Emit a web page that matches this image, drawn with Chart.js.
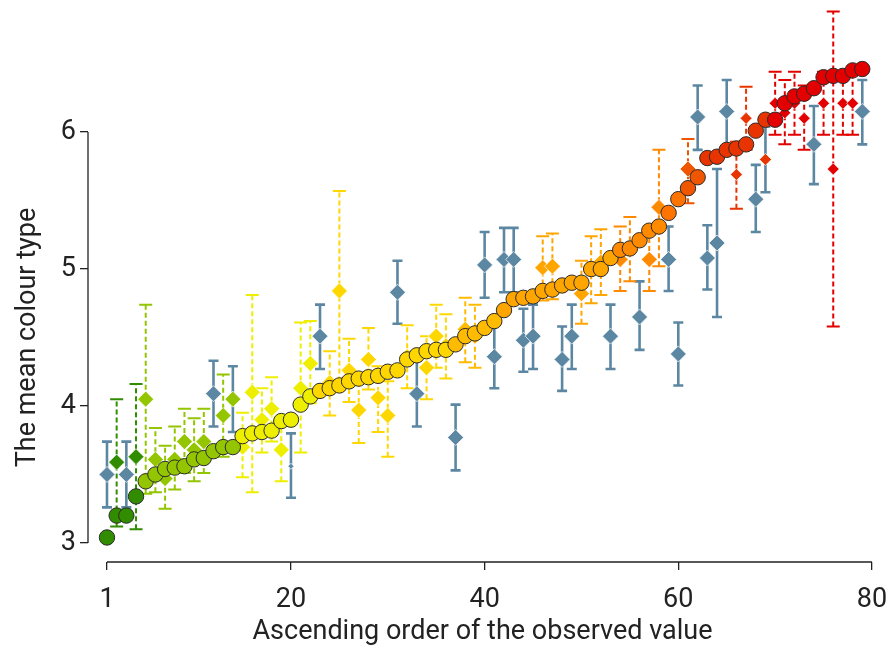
<!DOCTYPE html>
<html>
<head>
<meta charset="utf-8">
<script src="https://cdn.jsdelivr.net/npm/chart.js@4.4.1/dist/chart.umd.min.js"></script>
<style>
  html, body { margin: 0; padding: 0; background: #fff; }
  #wrap { width: 891px; height: 652px; position: relative; }
</style>
</head>
<body>
<div id="wrap"><canvas id="chart"></canvas></div>
<script>
// observed colour type, one value per rank (ascending)
const observed = [
  3.04, 3.20, 3.20, 3.34, 3.45, 3.50, 3.54, 3.55, 3.56, 3.61,
  3.62, 3.67, 3.70, 3.70, 3.78, 3.80, 3.81, 3.82, 3.89, 3.90,
  4.01, 4.07, 4.11, 4.13, 4.15, 4.18, 4.20, 4.21, 4.22, 4.25,
  4.26, 4.34, 4.37, 4.40, 4.41, 4.41, 4.45, 4.51, 4.53, 4.57,
  4.62, 4.70, 4.78, 4.79, 4.80, 4.84, 4.85, 4.88, 4.90, 4.90,
  5.00, 5.00, 5.08, 5.14, 5.15, 5.21, 5.28, 5.31, 5.41, 5.51,
  5.59, 5.67, 5.81, 5.82, 5.87, 5.88, 5.91, 6.01, 6.09, 6.09,
  6.21, 6.26, 6.28, 6.32, 6.40, 6.41, 6.41, 6.45, 6.46
];

// predicted mean colour type at each rank, with its interval
const predicted = [
  3.50, 3.59, 3.50, 3.63, 4.05, 3.61, 3.47, 3.61, 3.74, 3.68,
  3.74, 4.09, 3.93, 4.05, 3.70, 4.10, 3.90, 3.98, 3.68, 3.56,
  4.13, 4.31, 4.51, 4.17, 4.84, 4.26, 3.97, 4.34, 4.06, 3.93,
  4.83, 4.36, 4.09, 4.28, 4.51, 4.44, 3.77, 4.56, 4.51, 5.03,
  4.36, 5.07, 5.07, 4.48, 4.51, 5.01, 5.02, 4.34, 4.51, 4.82,
  5.00, 5.05, 4.51, 5.07, 5.15, 4.65, 5.07, 5.45, 5.07, 4.38,
  5.73, 6.11, 5.08, 5.19, 6.15, 5.69, 6.10, 5.51, 5.80, 6.21,
  6.14, 6.21, 6.10, 5.91, 6.21, 5.73, 6.21, 6.21, 6.15
];
const predLow = [
  3.26, 3.12, 3.26, 3.10, 3.36, 3.37, 3.25, 3.39, 3.51, 3.45,
  3.51, 3.85, 3.63, 3.81, 3.48, 3.37, 3.66, 3.74, 3.45, 3.33,
  3.66, 4.02, 4.27, 3.93, 4.12, 4.03, 3.73, 4.12, 3.81, 3.63,
  4.60, 4.13, 3.85, 4.05, 4.28, 4.20, 3.53, 4.32, 4.28, 4.79,
  4.13, 4.83, 4.83, 4.25, 4.27, 4.77, 4.78, 4.11, 4.27, 4.60,
  4.75, 4.81, 4.27, 4.84, 4.91, 4.41, 4.84, 5.02, 4.84, 4.15,
  5.48, 5.87, 4.85, 4.65, 5.90, 5.44, 5.87, 5.27, 5.56, 5.98,
  5.91, 5.98, 5.87, 5.62, 5.98, 4.58, 5.98, 5.98, 5.91
];
const predHigh = [
  3.74, 4.05, 3.74, 4.16, 4.74, 3.84, 3.71, 3.85, 3.98, 3.91,
  3.98, 4.33, 4.23, 4.29, 3.95, 4.81, 4.13, 4.21, 3.92, 3.80,
  4.61, 4.62, 4.74, 4.40, 5.57, 4.49, 4.22, 4.57, 4.29, 4.18,
  5.06, 4.59, 4.33, 4.51, 4.74, 4.67, 4.01, 4.79, 4.74, 5.27,
  4.59, 5.30, 5.30, 4.71, 4.74, 5.24, 5.26, 4.58, 4.74, 5.06,
  5.24, 5.29, 4.74, 5.31, 5.38, 4.91, 5.31, 5.87, 5.31, 4.61,
  5.95, 6.34, 5.32, 5.73, 6.38, 5.93, 6.33, 5.76, 6.04, 6.44,
  6.38, 6.44, 6.34, 6.19, 6.44, 6.88, 6.44, 6.44, 6.38
];
// b = interval misses the observed value (blue), c = coloured, m = blue interval, coloured mark
const predKind = [
  'b', 'c', 'b', 'c', 'c', 'c', 'c', 'c', 'c', 'c',
  'c', 'b', 'c', 'm', 'c', 'c', 'c', 'c', 'c', 'b',
  'c', 'c', 'b', 'c', 'c', 'c', 'c', 'c', 'c', 'c',
  'b', 'c', 'b', 'c', 'c', 'c', 'b', 'c', 'c', 'b',
  'b', 'b', 'b', 'b', 'b', 'c', 'c', 'b', 'b', 'c',
  'c', 'c', 'b', 'c', 'c', 'b', 'c', 'c', 'b', 'b',
  'c', 'b', 'b', 'b', 'b', 'c', 'c', 'b', 'm', 'c',
  'c', 'c', 'c', 'b', 'c', 'c', 'c', 'c', 'b'
];

const xTicks = [1, 20, 40, 60, 80];
const yTicks = [3, 4, 5, 6];

const BLUE = '#5b87a2';
const INK = '#222222';
const FONT = { family: 'Roboto, "Liberation Sans", sans-serif', size: 27 };

// colour ramp along the rank: [last rank of band, colour]
const bands = [
  [4, '#318c00'], [14, '#93c600'], [22, '#eeee00'], [36, '#ffd700'],
  [41, '#ffbb00'], [53, '#ffa500'], [58, '#ff8a00'], [60, '#ff7300'],
  [62, '#f05500'], [69, '#e83400'], [79, '#e30000']
];
function rankColour(rank) {
  return bands.find(b => rank <= b[0])[1];
}

const ranks = observed.map((_, i) => i + 1);
const observedPts = ranks.map((r, i) => ({ x: r, y: observed[i] }));
const colouredPts = ranks.filter((r, i) => predKind[i] !== 'b').map(r => ({ x: r, y: predicted[r - 1] }));
const bluePts = ranks.filter((r, i) => predKind[i] === 'b').map(r => ({ x: r, y: predicted[r - 1] }));

function drawBar(ctx, px, yLo, yHi, colour, width, dash, cap) {
  ctx.strokeStyle = colour;
  ctx.lineWidth = width;
  ctx.setLineDash(dash);
  ctx.beginPath();
  ctx.moveTo(px, yLo);
  ctx.lineTo(px, yHi);
  ctx.stroke();
  ctx.setLineDash([]);
  ctx.beginPath();
  ctx.moveTo(px - cap, yLo); ctx.lineTo(px + cap, yLo);
  ctx.moveTo(px - cap, yHi); ctx.lineTo(px + cap, yHi);
  ctx.stroke();
}

// axis lines (first to last tick), interval bars, and room for marks above the plot box
const errorBars = {
  id: 'errorBars',
  beforeDatasetsDraw(chart) {
    const { ctx, chartArea, scales: { x, y } } = chart;
    ctx.save();
    ctx.strokeStyle = INK;
    ctx.lineWidth = 1.3;
    ctx.beginPath();
    ctx.moveTo(x.getPixelForValue(xTicks[0]), chartArea.bottom);
    ctx.lineTo(x.getPixelForValue(xTicks[xTicks.length - 1]), chartArea.bottom);
    ctx.moveTo(chartArea.left, y.getPixelForValue(yTicks[0]));
    ctx.lineTo(chartArea.left, y.getPixelForValue(yTicks[yTicks.length - 1]));
    ctx.stroke();

    ranks.forEach((r, i) => {
      if (predKind[i] === 'c') return;
      drawBar(ctx, x.getPixelForValue(r), y.getPixelForValue(predLow[i]),
        y.getPixelForValue(predHigh[i]), BLUE, 2.6, [], 5);
    });
    ranks.forEach((r, i) => {
      if (predKind[i] !== 'c') return;
      drawBar(ctx, x.getPixelForValue(r), y.getPixelForValue(predLow[i]),
        y.getPixelForValue(predHigh[i]), rankColour(r), 2, [5, 3], 6.5);
    });
    ctx.restore();

    // points above the R-style plot box still have to be drawn
    chart._plotBox = chart.chartArea;
    chart.chartArea = { left: 0, top: 0, right: chart.width, bottom: chart.height,
      width: chart.width, height: chart.height };
  },
  afterDatasetsDraw(chart) {
    if (chart._plotBox) chart.chartArea = chart._plotBox;
  }
};

new Chart(document.getElementById('chart'), {
  type: 'scatter',
  data: {
    datasets: [
      {
        label: 'observed',
        data: observedPts,
        pointStyle: 'circle',
        pointRadius: 7.7,
        pointBackgroundColor: ctx => rankColour(ctx.dataIndex + 1),
        pointBorderColor: '#2a2a2a',
        pointBorderWidth: 1,
        order: 0,
        clip: false
      },
      {
        label: 'predicted',
        data: colouredPts,
        pointStyle: 'rectRot',
        pointRadius: ctx => (ctx.raw && ctx.raw.x >= 66 ? 6 : 8),
        pointBackgroundColor: ctx => (ctx.raw ? rankColour(ctx.raw.x) : BLUE),
        pointBorderColor: 'rgba(255,255,255,0.7)',
        pointBorderWidth: 1,
        order: 1,
        clip: false
      },
      {
        label: 'predicted (outside)',
        data: bluePts,
        pointStyle: 'rectRot',
        pointRadius: ctx => (ctx.raw && ctx.raw.x === 20 ? 3 : 8),
        pointBackgroundColor: BLUE,
        pointBorderColor: 'rgba(255,255,255,0.7)',
        pointBorderWidth: 1,
        order: 2,
        clip: false
      }
    ]
  },
  options: {
    responsive: true,
    maintainAspectRatio: false,
    animation: false,
    events: [],
    layout: { padding: { top: 113, right: 14, left: 0, bottom: 0 } },
    plugins: {
      legend: { display: false },
      tooltip: { enabled: false }
    },
    scales: {
      x: {
        type: 'linear',
        min: -0.96,
        max: 80.52,
        afterBuildTicks: s => { s.ticks = xTicks.map(v => ({ value: v })); },
        afterFit: s => { s.height = 90; s.paddingLeft = 0; s.paddingRight = 0; },
        border: { display: false },
        grid: { drawOnChartArea: false, tickLength: 8, color: INK, lineWidth: 1.3 },
        ticks: { font: FONT, color: INK, padding: 14, autoSkip: false, maxRotation: 0 },
        title: {
          display: true,
          text: 'Ascending order of the observed value',
          font: FONT,
          color: INK,
          padding: { top: 0, bottom: 4 }
        }
      },
      y: {
        type: 'linear',
        min: 2.861,
        max: 6.139,
        afterBuildTicks: s => { s.ticks = yTicks.map(v => ({ value: v })); },
        afterFit: s => { s.width = 88; },
        border: { display: false },
        grid: { drawOnChartArea: false, tickLength: 8, color: INK, lineWidth: 1.3 },
        ticks: { font: FONT, color: INK, padding: 4, autoSkip: false },
        title: {
          display: true,
          text: 'The mean colour type',
          font: FONT,
          color: INK,
          padding: { top: 12, bottom: 0 }
        }
      }
    }
  },
  plugins: [errorBars]
});
</script>
</body>
</html>
